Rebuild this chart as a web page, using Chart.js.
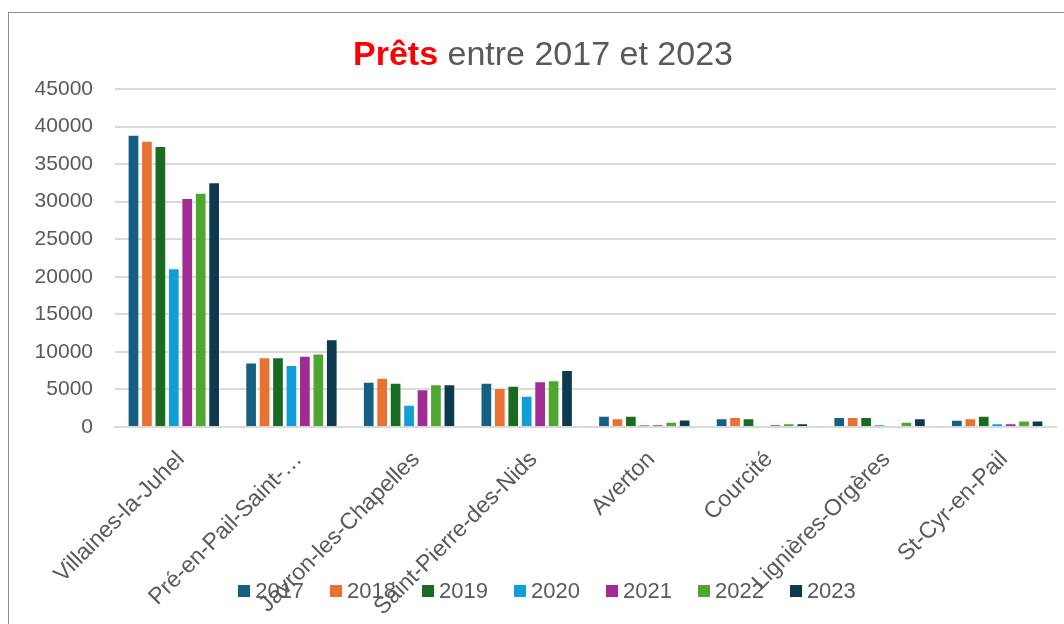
<!DOCTYPE html>
<html lang="fr">
<head>
<meta charset="utf-8">
<title>Prêts entre 2017 et 2023</title>
<script src="https://cdn.jsdelivr.net/npm/chart.js@4.4.1/dist/chart.umd.min.js"></script>
<style>
    html, body { margin: 0; padding: 0; background: #fff; }
    body { width: 1064px; height: 624px; overflow: hidden; position: relative; font-family: "Liberation Sans", Arial, sans-serif; }
    .frame { position: absolute; left: 8px; top: 12px; width: 1100px; height: 700px; border-left: 1.5px solid #8c8c8c; border-top: 1.5px solid #8c8c8c; }
    .chart-wrap { position: absolute; left: 0; top: 0; width: 1064px; height: 624px; }
    .chart-title { position: absolute; left: 0; width: 1086px; top: 34px; text-align: center; font-size: 34px; color: #595959; }
    .chart-title b { color: #ff0000; }
    .legend { position: absolute; top: 578px; left: 0; width: 1094px; display: flex; justify-content: center; gap: 26px; font-size: 22px; color: #595959; pointer-events: none; }
    .legend span { display: flex; align-items: center; }
    .legend i { display: inline-block; width: 12px; height: 12px; margin-right: 5px; }
</style>
</head>
<body>
<div class="frame"></div>
<div class="chart-wrap"><canvas id="pretsChart" width="1064" height="624"></canvas></div>
<div class="chart-title"><b>Prêts</b> entre 2017 et 2023</div>
<div class="legend" id="legend"></div>
<script>
const communes = ['Villaines-la-Juhel', 'Pré-en-Pail-Saint-…', 'Javron-les-Chapelles', 'Saint-Pierre-des-Nids',
    'Averton', 'Courcité', 'Lignières-Orgères', 'St-Cyr-en-Pail'];
const years = ['2017', '2018', '2019', '2020', '2021', '2022', '2023'];

const prets2017 = [38900, 8600, 6030, 5900, 1500, 1160, 1330, 980];
const prets2018 = [38100, 9280, 6560, 5190, 1160, 1330, 1330, 1160];
const prets2019 = [37400, 9280, 5900, 5500, 1500, 1160, 1330, 1500];
const prets2020 = [21150, 8250, 2970, 4170, 330, 0, 330, 500];
const prets2021 = [30500, 9500, 5020, 6080, 330, 330, 0, 500];
const prets2022 = [31200, 9800, 5690, 6220, 700, 500, 700, 850];
const prets2023 = [32600, 11680, 5690, 7590, 1000, 500, 1160, 850];

const yTicks = [0, 5000, 10000, 15000, 20000, 25000, 30000, 35000, 40000, 45000];

const seriesValues = [prets2017, prets2018, prets2019, prets2020, prets2021, prets2022, prets2023];
const seriesColors = ['#156082', '#E97132', '#196B24', '#0F9ED5', '#A02B93', '#4EA72E', '#0D3A4E'];

const textColor = '#595959';
const fontFamily = '"Liberation Sans", Arial, sans-serif';

document.addEventListener('DOMContentLoaded', () => {
    const legend = document.getElementById('legend');
    years.forEach((y, i) => {
        legend.innerHTML += `<span><i style="background:${seriesColors[i]}"></i>${y}</span>`;
    });

    const ctx = document.getElementById('pretsChart');
    new Chart(ctx, {
        type: 'bar',
        data: {
            labels: communes,
            datasets: years.map((y, i) => ({
                label: y,
                data: seriesValues[i],
                backgroundColor: seriesColors[i],
                borderColor: 'rgba(255, 255, 255, 0.45)',
                borderWidth: 1,
                categoryPercentage: 0.8,
                barPercentage: 0.87
            }))
        },
        options: {
            responsive: false,
            animation: false,
            layout: { padding: { left: 0, top: 89, right: 8, bottom: 0 } },
            plugins: {
                legend: { display: false },
                title: { display: false },
                tooltip: { enabled: false }
            },
            scales: {
                y: {
                    min: 0,
                    max: 45000,
                    afterFit: (scale) => { scale.width = 115; },
                    afterBuildTicks: (scale) => { scale.ticks = yTicks.map(v => ({ value: v })); },
                    grid: { color: '#d9d9d9', lineWidth: 2, drawTicks: false },
                    border: { display: false },
                    ticks: {
                        color: textColor,
                        padding: 22,
                        callback: (v) => String(v),
                        font: { family: fontFamily, size: 21 }
                    }
                },
                x: {
                    afterFit: (scale) => { scale.height = 197; },
                    grid: { display: false, drawTicks: false },
                    border: { color: '#d9d9d9', width: 2 },
                    ticks: {
                        color: textColor,
                        minRotation: 45,
                        maxRotation: 45,
                        padding: 19,
                        labelOffset: 7,
                        autoSkip: false,
                        font: { family: fontFamily, size: 23 }
                    }
                }
            }
        }
    });
});
</script>
</body>
</html>
